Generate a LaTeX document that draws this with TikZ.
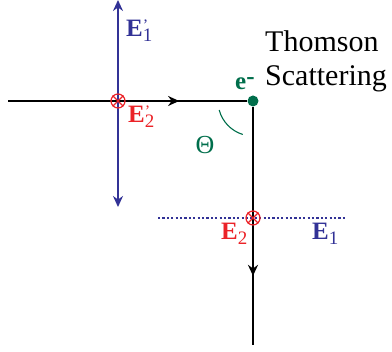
\documentclass[tikz,border=0pt]{standalone}
\usepackage{fontspec}
\setmainfont{Liberation Serif}
\usepackage{tikz}
\usetikzlibrary{arrows.meta,decorations.markings}
\usepackage{xcolor}
\definecolor{fld}{RGB}{50,50,150}
\definecolor{pol}{RGB}{235,35,40}
\definecolor{elec}{RGB}{0,110,75}

% field label: bold E, prime on top, index below
\newcommand{\fieldlab}[2]{\textbf{E}\makebox[0pt][l]{\raisebox{0.6ex}{\fontsize{16}{16}\selectfont #1}}\raisebox{-0.42ex}{\fontsize{19}{19}\selectfont #2}}

\begin{document}
\begin{tikzpicture}[x=1pt,y=1pt,font=\rmfamily,
  ray/.style={line width=2.3pt,black},
  efield/.style={line width=2.3pt,fld},
  tip/.style={-{Stealth[length=11pt,width=10pt]}},
  midtip/.style={postaction={decorate},decoration={markings,
    mark=at position #1 with {\arrow{Stealth[length=11pt,width=10pt]}}}},
  cross/.style={circle,draw=pol,line width=1.2pt,minimum size=14pt,inner sep=0pt},
  edot/.style={circle,fill=elec,inner sep=0pt,minimum size=11pt},
  lab/.style={anchor=base west,inner sep=0pt,font=\rmfamily\fontsize{25}{25}\selectfont}]
\useasboundingbox (0,0) rectangle (392,352);
% incoming ray and first field pair
\coordinate (src) at (8,251);
\node[edot] (e) at (253,251) {};
\coordinate (top1) at (118,352);
\coordinate (bot1) at (118,145);
\draw[efield,tip] (118,251) -- (top1);
\draw[efield,tip] (118,251) -- (bot1);
\draw[ray,midtip=0.715] (src) -- (e);
\node[cross,fill=none] (p1) at (118,251) {};
% scattered ray and second field pair
\coordinate (out) at (253,7);
\coordinate (d1) at (158,134);
\coordinate (d2) at (347,134);
\draw[fld,line width=2.2pt,dash pattern=on 2.2pt off 2.2pt] (d1) -- (d2);
\draw[ray,midtip=0.71] (e) -- (out);
\node[cross] (p2) at (253,134) {};
\foreach \p in {p1,p2}{
  \draw[pol,line width=1.2pt] (\p.north west) -- (\p.south east);
  \draw[pol,line width=1.2pt] (\p.north east) -- (\p.south west);}
% scattering angle
\draw[elec,line width=1.1pt] ([shift={(195:35)}]e.center) arc (195:253:35);
\node[elec,inner sep=0pt,font=\rmfamily\fontsize{26}{26}\selectfont] (th) at (205,207) {Θ};
% labels
\node[lab,fld] (le1p) at (126,315) {\fieldlab{'}{1}};
\node[lab,pol] (le2p) at (128,229) {\fieldlab{'}{2}};
\node[lab,pol] (le2) at (221,112) {\fieldlab{}{2}};
\node[lab,fld] (le1) at (312,112) {\fieldlab{}{1}};
\node[lab,elec] (le) at (235,262) {\textbf{e}\raisebox{0.45ex}{\textbf{-}}};
\node[anchor=base west,inner sep=0pt,align=left,font=\rmfamily\fontsize{30}{34}\selectfont] (ts) at (265,266) {Thomson\\Scattering};
\end{tikzpicture}
\end{document}
